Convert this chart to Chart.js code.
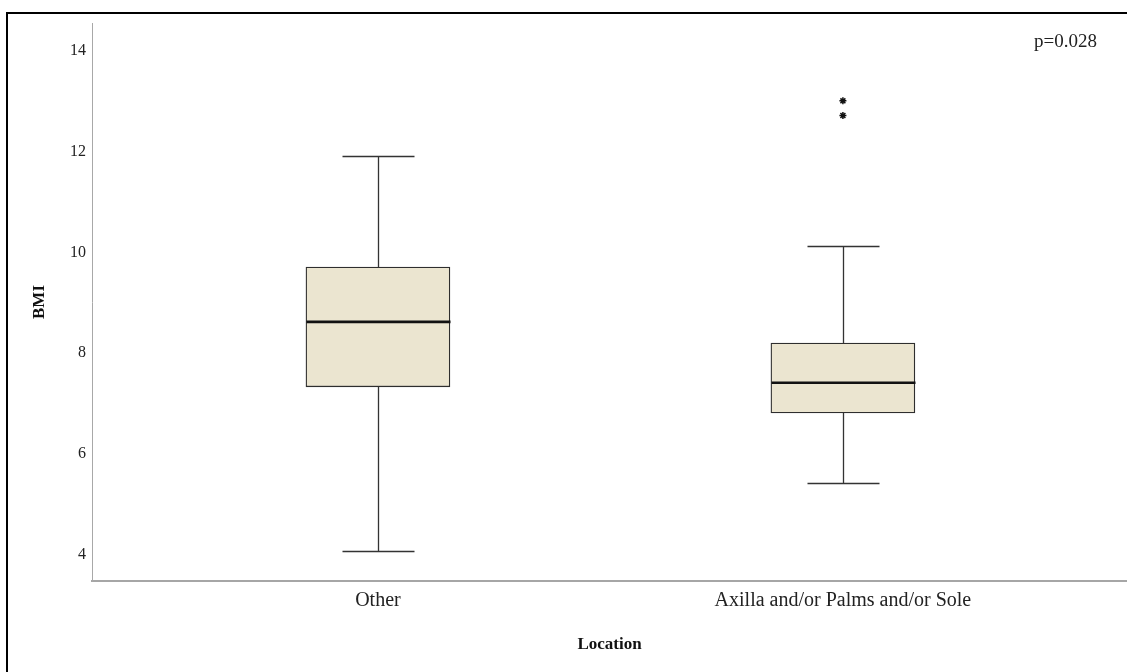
<!DOCTYPE html>
<html><head><meta charset="utf-8">
<script src="https://cdn.jsdelivr.net/npm/chart.js@4.4.0/dist/chart.umd.min.js"></script>
<style>html,body{margin:0;padding:0;background:#fff;}#wrap{width:1127px;height:672px;}</style>
</head><body><div id="wrap"><canvas id="c" width="1127" height="672"></canvas></div>
<script>
// ---- data ----
const categories = ['Other', 'Axilla and/or Palms and/or Sole'];
const positions = [1, 2];
const whiskerLow = [4.07, 5.42];
const q1 = [7.33, 6.81];
const median = [8.62, 7.41];
const q3 = [9.71, 8.20];
const whiskerHigh = [11.91, 10.12];
const outlierX = [2, 2];
const outlierY = [13.01, 12.72];
const yTicks = [4, 6, 8, 10, 12, 14];
const pValueText = 'p=0.028';
const yTitle = 'BMI';
const xTitle = 'Location';

// ---- styles ----
const BOX_PX = 144;
const SERIF = '"Liberation Serif", "Times New Roman", serif';

const framePlugin = {
  id: 'frame',
  beforeDraw(chart) {
    const ctx = chart.ctx;
    ctx.save();
    ctx.fillStyle = '#fff';
    ctx.fillRect(0, 0, chart.width, chart.height);
    ctx.strokeStyle = '#000';
    ctx.lineWidth = 2;
    ctx.beginPath();
    ctx.moveTo(7, chart.height);
    ctx.lineTo(7, 13);
    ctx.lineTo(chart.width, 13);
    ctx.stroke();
    ctx.restore();
  },
  afterDraw(chart) {
    const ctx = chart.ctx;
    ctx.save();
    ctx.font = '19px ' + SERIF;
    ctx.fillStyle = '#222';
    ctx.textAlign = 'right';
    ctx.textBaseline = 'alphabetic';
    ctx.fillText(pValueText, chart.chartArea.right - 30, chart.chartArea.top + 24);
    ctx.restore();
  }
};

const boxPlugin = {
  id: 'boxparts',
  afterDatasetsDraw(chart) {
    const {ctx, scales: {x, y}} = chart;
    ctx.save();
    positions.forEach((p, i) => {
      const cx = Math.round(x.getPixelForValue(p)) + 0.5;
      const cap = BOX_PX / 4;
      ctx.strokeStyle = '#333';
      ctx.lineWidth = 1.3;
      ctx.beginPath();
      ctx.moveTo(cx, y.getPixelForValue(q3[i]));
      ctx.lineTo(cx, y.getPixelForValue(whiskerHigh[i]));
      ctx.moveTo(cx, y.getPixelForValue(q1[i]));
      ctx.lineTo(cx, y.getPixelForValue(whiskerLow[i]));
      const yh = Math.round(y.getPixelForValue(whiskerHigh[i])) + 0.5;
      const yl = Math.round(y.getPixelForValue(whiskerLow[i])) + 0.5;
      ctx.moveTo(cx - cap, yh); ctx.lineTo(cx + cap, yh);
      ctx.moveTo(cx - cap, yl); ctx.lineTo(cx + cap, yl);
      ctx.stroke();
      ctx.strokeStyle = '#111';
      ctx.lineWidth = 2.6;
      ctx.beginPath();
      const ym = y.getPixelForValue(median[i]);
      ctx.moveTo(cx - BOX_PX / 2, ym);
      ctx.lineTo(cx + BOX_PX / 2, ym);
      ctx.stroke();
    });
    ctx.restore();
  }
};

new Chart(document.getElementById('c'), {
  type: 'bar',
  data: {
    datasets: [
      {
        type: 'bar',
        data: positions.map((p, i) => ({x: p, y: [q1[i], q3[i]]})),
        backgroundColor: '#ebe5d0',
        borderColor: '#2e2e2e',
        borderWidth: 1.3,
        borderSkipped: false,
        barThickness: BOX_PX,
        order: 2
      },
      {
        type: 'scatter',
        data: outlierX.map((xv, i) => ({x: xv, y: outlierY[i]})),
        pointStyle: 'star',
        radius: 3.5,
        borderColor: '#111',
        backgroundColor: '#111',
        borderWidth: 1.5,
        order: 1
      }
    ]
  },
  options: {
    responsive: false,
    animation: false,
    devicePixelRatio: 1,
    layout: {autoPadding: false, padding: {top: 23, left: 0, right: 0, bottom: 0}},
    plugins: {legend: {display: false}, tooltip: {enabled: false}},
    scales: {
      x: {
        type: 'linear',
        offset: false,
        min: 0.385,
        max: 2.611,
        grid: {display: false, drawTicks: false},
        border: {display: true, color: '#a6a6a6', width: 2},
        afterBuildTicks: s => { s.ticks = positions.map(v => ({value: v})); },
        afterFit: s => { s.height = 91; s.paddingLeft = 0; s.paddingRight = 0; },
        ticks: {
          autoSkip: false, maxRotation: 0, padding: 8,
          color: '#222', font: {family: SERIF, size: 20},
          callback: v => categories[positions.indexOf(v)]
        },
        title: {display: true, text: xTitle, color: '#111',
          font: {family: SERIF, size: 17, weight: 'bold'}, padding: {top: 0, bottom: 17}}
      },
      y: {
        type: 'linear',
        min: 3.474,
        max: 14.556,
        grid: {display: false, drawTicks: false},
        border: {display: true, color: '#a8a8a8', width: 1},
        afterBuildTicks: s => { s.ticks = yTicks.map(v => ({value: v})); },
        afterFit: s => { s.width = 92; s.paddingTop = 0; s.paddingBottom = 0; },
        ticks: {padding: 6, color: '#222', font: {family: SERIF, size: 16}},
        title: {display: true, text: yTitle, color: '#111',
          font: {family: SERIF, size: 17, weight: 'bold'}, padding: {top: 29, bottom: 0}}
      }
    }
  },
  plugins: [framePlugin, boxPlugin]
});
</script></body></html>
